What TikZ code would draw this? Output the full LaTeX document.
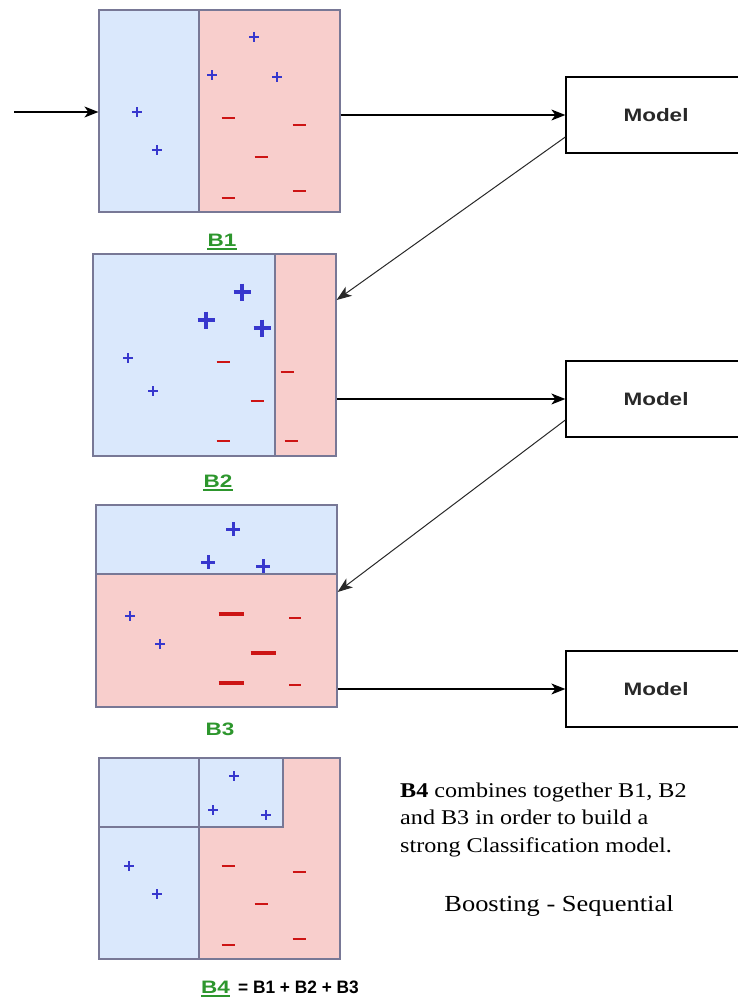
\documentclass[tikz,border=0pt]{standalone}
\usepackage{fontspec}
\setmainfont{Liberation Serif}
\setsansfont{Liberation Sans}
\usetikzlibrary{arrows.meta, positioning, calc}
\definecolor{PaleBlue}{RGB}{218, 232, 252}
\definecolor{PaleRed}{RGB}{248, 206, 204}
\definecolor{EdgeGray}{RGB}{120, 120, 150}
\definecolor{EdgeRed}{RGB}{188, 118, 116}
\definecolor{PlusBlue}{RGB}{55, 55, 205}
\definecolor{MinusRed}{RGB}{205, 20, 20}
\definecolor{LabelGreen}{RGB}{45, 150, 45}
\definecolor{InkGray}{RGB}{40, 40, 40}
\newcommand{\widen}[1]{\scalebox{1.25}[1]{#1}}
\newcommand{\serifwiden}[1]{\scalebox{1.15}[1]{#1}}

\tikzset{
  bagframe/.style={draw=EdgeGray, fill=PaleRed, line width=1.2pt, inner sep=0pt},
  blueside/.style={fill=PaleBlue, draw=EdgeGray, line width=1.2pt},
  modelbox/.style={draw=black, line width=1.3pt, fill=white, minimum width=180pt, minimum height=76pt, text=InkGray, font=\sffamily\bfseries\fontsize{18}{20}\selectfont},
  blabel/.style={text=LabelGreen, inner sep=0pt, anchor=base, font=\sffamily\bfseries\fontsize{18}{20}\selectfont},
  greenline/.style={LabelGreen, line width=1.8pt},
  notetext/.style={inner sep=0pt, font=\fontsize{21}{27.5}\selectfont},
  arr/.style={-{Stealth[length=14pt, width=11pt, inset=4pt]}, line width=1.2pt, black},
  thinarr/.style={-{Stealth[length=15pt, width=11pt, inset=4pt]}, line width=1pt, InkGray},
  smallplus/.pic={\draw[PlusBlue, line width=2.4pt] (-5,0) -- (5,0) (0,-5) -- (0,5);},
  midplus/.pic={\draw[PlusBlue, line width=3pt] (-7,0) -- (7,0) (0,-7) -- (0,7);},
  bigplus/.pic={\draw[PlusBlue, line width=3.4pt] (-8.5,0) -- (8.5,0) (0,-8.5) -- (0,8.5);},
  smallminus/.pic={\draw[MinusRed, line width=2.6pt] (-6.5,0) -- (6.5,0);},
  bigminus/.pic={\draw[MinusRed, line width=4pt] (-12.5,0) -- (12.5,0);},
  thinminus/.pic={\draw[MinusRed, line width=1.2pt] (-6,0) -- (6,0);}
}

\begin{document}
\begin{tikzpicture}[x=1pt, y=-1pt]
  \useasboundingbox (0,0) rectangle (738,998);

  \node[bagframe, minimum width=241pt, minimum height=202pt] (bone) at (219.5,111) {};
  \draw[blueside] (99,10) rectangle (199,212);
  \node[bagframe, minimum width=243pt, minimum height=202pt] (btwo) at (214.5,355) {};
  \draw[blueside] (93,254) rectangle (275,456);
  \node[bagframe, minimum width=241pt, minimum height=202pt] (bthree) at (216.5,606) {};
  \draw[blueside] (96,505) rectangle (337,574);
  \node[bagframe, minimum width=241pt, minimum height=201pt] (bfour) at (219.5,858.5) {};
  \draw[blueside] (99,758) rectangle (199,959);
  \draw[blueside] (99,758) rectangle (199,827);
  \draw[blueside] (199,758) rectangle (283,827);

  \foreach \px/\py in {254/37, 212/75, 277/77, 137/112, 157/150,
                       128/358, 153/391, 130/616, 160/644,
                       234/776, 213/810, 266/815, 129/866, 157/894}
    \pic at (\px,\py) {smallplus};
  \foreach \px/\py in {242/292, 206/320, 262/328}
    \pic at (\px,\py) {bigplus};
  \foreach \px/\py in {233/529, 208/562, 263/566}
    \pic at (\px,\py) {midplus};
  \foreach \px/\py in {228/118, 299/125, 261/157, 228/198, 299/191,
                       223/362, 287/372, 257/401, 223/441, 291/441,
                       228/866, 299/872, 261/904, 228/945, 299/939}
    \pic at (\px,\py) {smallminus};
  \foreach \px/\py in {231/614, 263/653, 231/683}
    \pic at (\px,\py) {bigminus};
  \foreach \px/\py in {295/618, 295/685}
    \pic at (\px,\py) {thinminus};

  \node[modelbox] (mone) at (656,115) {\widen{Model}};
  \node[modelbox] (mtwo) at (656,399) {\widen{Model}};
  \node[modelbox] (mthree) at (656,689) {\widen{Model}};

  \coordinate (feed) at (14,112);
  \draw[arr] (feed) -- (feed -| bone.west);
  \draw[arr] (bone.east |- mone.west) -- (mone.west);
  \draw[thinarr] ([yshift=-22pt]mone.west) -- ([yshift=55pt]btwo.east);
  \draw[arr] (btwo.east |- mtwo.west) -- (mtwo.west);
  \draw[thinarr] ([yshift=-21pt]mtwo.west) -- ([yshift=14pt]bthree.east);
  \draw[arr] (bthree.east |- mthree.west) -- (mthree.west);

  \node[blabel] (lone) at (222,246) {\widen{B1}};
  \draw[greenline] ([yshift=-3pt]lone.base west) -- ([yshift=-3pt]lone.base east);
  \node[blabel] (ltwo) at (218,487) {\widen{B2}};
  \draw[greenline] ([yshift=-3pt]ltwo.base west) -- ([yshift=-3pt]ltwo.base east);
  \node[blabel] (lthree) at (220,735) {\widen{B3}};
  \node[blabel] (lfour) at (215.5,993) {\widen{B4}};
  \draw[greenline] ([yshift=-3pt]lfour.base west) -- ([yshift=-3pt]lfour.base east);
  \node[blabel, anchor=base west, text=black, font=\sffamily\bfseries\fontsize{18}{20}\selectfont] (sum) at (238,993) {\scalebox{0.96}[1]{= B1 + B2 + B3}};

  \node[notetext, anchor=base west] (note) at (400,797) {\serifwiden{\begin{tabular}[t]{@{}l@{}}\textbf{B4} combines together B1, B2\\and B3 in order to build a\\strong Classification model.\end{tabular}}};
  \node[notetext, anchor=base, font=\fontsize{23}{26}\selectfont] (kind) at (559,911) {\serifwiden{Boosting - Sequential}};
\end{tikzpicture}
\end{document}
